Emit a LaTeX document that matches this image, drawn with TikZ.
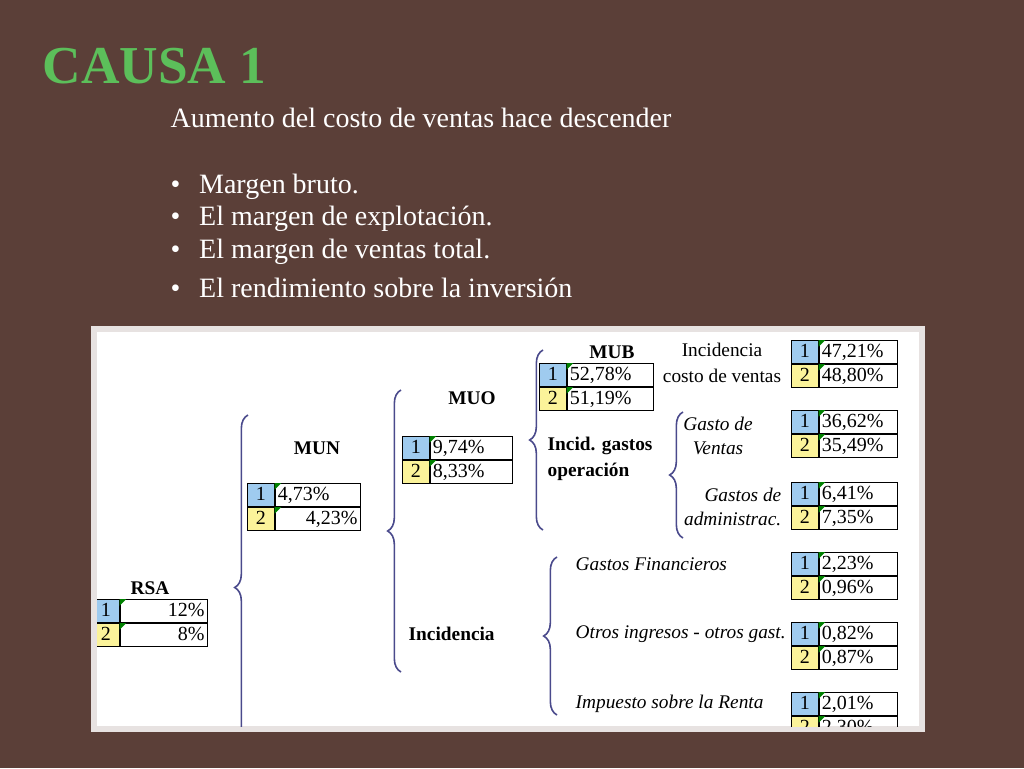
\documentclass[tikz,border=0pt]{standalone}
\usepackage{fontspec}
\setmainfont{Liberation Serif}
\usetikzlibrary{positioning,decorations.pathreplacing}
\definecolor{fondo}{HTML}{5B3F38}
\definecolor{celdaA}{HTML}{9FCBEF}
\definecolor{celdaB}{HTML}{FBF39A}
\definecolor{llave}{HTML}{4A4A8C}
\definecolor{titulo}{HTML}{5CBF5A}
\tikzset{
  celda/.style={draw=black, line width=0.8pt, minimum height=17.25pt, inner xsep=2pt,
    inner ysep=0pt, text height=10.5pt, text depth=3pt,
    font=\fontsize{15}{17}\selectfont},
  llaveb/.style={decorate, decoration={brace, mirror, amplitude=10pt}, draw=llave, line width=1.2pt},
  etiq/.style={font=\fontsize{14.5}{19}\selectfont\bfseries, align=center},
  etiqi/.style={font=\fontsize{14.5}{18}\selectfont\itshape},
}
% table of two rows: name, x, y (top left, px), value width (px), values
\newcommand{\tabla}[6]{%
  \node[celda, minimum width=#4*0.75pt, anchor=north west, text width=#4*0.75pt-4pt] (#1v1) at ($(#2,#3)+(20pt,0)$) {#5};
  \node[celda, minimum width=#4*0.75pt, anchor=north, text width=#4*0.75pt-4pt] (#1v2) at (#1v1.south) {#6};
  \node[celda, fill=celdaA, minimum width=20pt, text width=12pt, align=center, anchor=north east] (#1n1) at (#1v1.north west) {1};
  \node[celda, fill=celdaB, minimum width=20pt, text width=12pt, align=center, anchor=north east] (#1n2) at (#1v2.north west) {2};
  \fill[green!50!black] (#1v1.north west) -- ++(5pt,0) -- ++(-5pt,-5pt) -- cycle;
  \fill[green!50!black] (#1v2.north west) -- ++(5pt,0) -- ++(-5pt,-5pt) -- cycle;
}
\usetikzlibrary{calc}
\begin{document}
\begin{tikzpicture}[x=0.75pt, y=-0.75pt]
\useasboundingbox (0,0) rectangle (1024,768);
\fill[fondo] (0,0) rectangle (1024,768);

%--- title and bullets ---
\node[anchor=west, font=\fontsize{40}{44}\selectfont\bfseries, text=titulo] (tit) at (38,66) {CAUSA 1};
\node[anchor=west, text=white, font=\fontsize{21}{24}\selectfont] (intro) at (166,118) {Aumento del costo de ventas hace descender};
\foreach \t/\yy [count=\i] in {Margen bruto./187, El margen de explotación./219, El margen de ventas total./252, El rendimiento sobre la inversión/288} {
  \node[anchor=west, text=white, font=\fontsize{21}{24}\selectfont] (bul\i) at (166,\yy) {•\hspace{14pt}\t};
}

%--- panel ---
\fill[white!85!fondo] (91,326) rectangle (925,732);
\fill[white] (97,332) rectangle (919,726);
\begin{scope}
\clip (97,332) rectangle (919,726);

% tables
\node[etiq] (rsa) at (150,588) {RSA};
\tabla{rsa}{93}{599}{87}{\hfill 12\%}{\hfill 8\%}
\node[etiq] (mun) at (317,448) {MUN};
\tabla{mun}{248}{483}{85}{4,73\%}{\hfill 4,23\%}
\node[etiq] (muo) at (472,398) {MUO};
\tabla{muo}{403}{436}{82}{9,74\%}{8,33\%}
\node[etiq] (mub) at (612,352) {MUB};
\tabla{mub}{540}{363}{86}{52,78\%}{51,19\%}

\tabla{icv}{792}{340}{78}{47,21\%}{48,80\%}
\tabla{gv}{792}{410}{78}{36,62\%}{35,49\%}
\tabla{ga}{792}{482}{78}{6,41\%}{7,35\%}
\tabla{gf}{792}{552}{78}{2,23\%}{0,96\%}
\tabla{oi}{792}{622}{78}{0,82\%}{0,87\%}
\tabla{ir}{792}{692}{78}{2,01\%}{2,30\%}

% labels
\node[font=\fontsize{14.5}{19}\selectfont, align=center] (lcv) at (722,363) {Incidencia\\costo de ventas};
\node[etiq, align=left, anchor=west] (lig) at (543,459) {Incid. gastos\\operación};
\node[etiqi, align=center] (lgv) at (718,436) {Gasto de\\Ventas};
\node[etiqi, align=right, anchor=east] (lga) at (786,507) {Gastos de\\administrac.};
\node[etiq, anchor=west] (linc) at (404,634) {Incidencia};
\node[etiqi, anchor=west] (lgf) at (571,564) {Gastos Financieros};
\node[etiqi, anchor=west] (loi) at (571,634) {Otros ingresos - otros gast.};
\node[etiqi, anchor=west] (lir) at (571,704) {Impuesto sobre la Renta};

% braces
\draw[llaveb] (248,415) -- (248,760);
\draw[llaveb] (401,390) -- (401,672);
\draw[llaveb] (543,350) -- (543,530);
\draw[llaveb] (683,412) -- (683,538);
\draw[llaveb] (557,557) -- (557,715);
\end{scope}
\end{tikzpicture}
\end{document}
